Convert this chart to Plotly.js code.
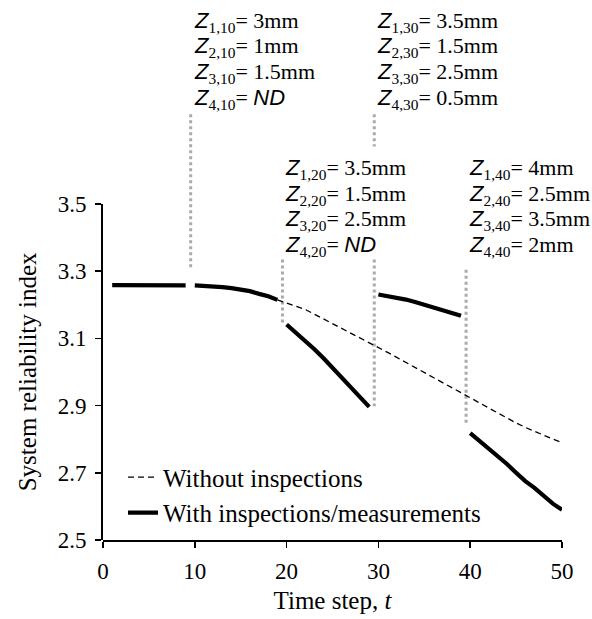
<!DOCTYPE html>
<html>
<head>
<meta charset="utf-8">
<script src="https://cdn.plot.ly/plotly-3.0.1.min.js"></script>
<style>
  html, body { margin: 0; padding: 0; background: #ffffff; }
  #chart { width: 592px; height: 619px; }
</style>
</head>
<body>
<div id="chart"></div>
<script>
// ---- data ----
// Without inspections (dashed)
const tWithout = [19,20,21,22,23,24,25,26,27,28,29,30,31,32,33,34,35,36,37,38,39,40,41,42,43,44,45,46,47,48,49,50];
const yWithout = [3.214,3.204,3.196,3.186,3.172,3.158,3.144,3.130,3.114,3.100,3.086,3.072,3.058,3.043,3.028,3.012,2.997,2.982,2.967,2.952,2.937,2.921,2.906,2.891,2.877,2.862,2.848,2.835,2.823,2.811,2.800,2.790];

// With inspections/measurements (solid), segments separated by null
const tWith = [1,2,3,4,5,6,7,8,9,null,
               10,11,12,13,14,15,16,17,18,19,null,
               20,21,22,23,24,25,26,27,28,29,null,
               30,31,32,33,34,35,36,37,38,39,null,
               40,41,42,43,44,45,46,47,48,49,50];
const yWith = [3.258,3.258,3.258,3.258,3.258,3.258,3.258,3.258,3.257,null,
               3.257,3.256,3.254,3.252,3.249,3.245,3.240,3.232,3.225,3.214,null,
               3.141,3.118,3.094,3.068,3.041,3.013,2.983,2.954,2.925,2.896,null,
               3.230,3.226,3.221,3.215,3.208,3.200,3.190,3.183,3.176,3.167,null,
               2.818,2.795,2.773,2.751,2.726,2.700,2.675,2.655,2.631,2.608,2.590];

// Inspection times and measured values
const inspTimes = [10, 20, 30, 40];
const zAt10 = ['3mm', '1mm', '1.5mm', 'ND'];
const zAt20 = ['3.5mm', '1.5mm', '2.5mm', 'ND'];
const zAt30 = ['3.5mm', '1.5mm', '2.5mm', '0.5mm'];
const zAt40 = ['4mm', '2.5mm', '3.5mm', '2mm'];

const xTicks = [0, 10, 20, 30, 40, 50];
const yTicks = [2.5, 2.7, 2.9, 3.1, 3.3, 3.5];

// ---- build ----
const SERIF = '"Liberation Serif", "Times New Roman", serif';
const SANS = '"Liberation Sans", Arial, sans-serif';

const traces = [
  {
    x: tWithout, y: yWithout, type: 'scatter', mode: 'lines',
    name: 'Without inspections',
    line: { color: '#000000', width: 1.3, dash: '6px,4px' },
    xaxis: 'x', yaxis: 'y', hoverinfo: 'skip'
  },
  {
    x: tWith, y: yWith, type: 'scatter', mode: 'lines',
    name: 'With inspections/measurements',
    line: { color: '#000000', width: 4.2 },
    connectgaps: false,
    xaxis: 'x', yaxis: 'y', hoverinfo: 'skip'
  },
  {
    // empty trace so that the displayed reliability-index axis is drawn
    x: [], y: [], type: 'scatter', mode: 'lines',
    xaxis: 'x', yaxis: 'y2', showlegend: false, hoverinfo: 'skip'
  }
];

// Plot area geometry (pixels) used for placing the text blocks
const H = 619, MT = 2, MB = 79;
const plotH = H - MT - MB;
function pxToPaper(py) { return (H - MB - py) / plotH; }

const zSets = [zAt10, zAt20, zAt30, zAt40];
const blockTopPx = [22, 169, 22, 169];   // centre of first line of each block
const lineStep = 25.5;
const SANS_Q = SANS.replace(/"/g, "'");

function zLine(i, t, val) {
  const v = (val === 'ND')
    ? '<span style="font-family:' + SANS_Q + '"><i>ND</i></span>'
    : val;
  return '<span style="font-family:' + SANS_Q + '"><i>Z</i></span>' +
         '<sub>' + i + ',' + t + '</sub>= ' + v;
}

const annotations = [];
inspTimes.forEach((t, k) => {
  zSets[k].forEach((val, i) => {
    annotations.push({
      xref: 'x', yref: 'paper',
      x: t - 0.45, y: pxToPaper(blockTopPx[k] + i * lineStep),
      xanchor: 'left', yanchor: 'middle', xshift: 2,
      text: zLine(i + 1, t, val),
      showarrow: false,
      font: { family: SERIF, size: 22, color: '#000000' },
      borderpad: 0
    });
  });
});

// Grey dotted leader lines (y values on the main y axis)
const leaderStyle = { color: '#aaaaaa', width: 3, dash: 'dot' };
const leaderPieces = [
  [0, 3.766, 3.304],
  [1, 3.334, 3.141],
  [2, 3.766, 3.670],
  [2, 3.334, 2.898],
  [3, 3.304, 2.843]
];
const shapes = leaderPieces.map(p => ({
  type: 'line', xref: 'x', yref: 'y',
  x0: inspTimes[p[0]] - 0.45, x1: inspTimes[p[0]] - 0.45,
  y0: p[1], y1: p[2],
  line: leaderStyle, layer: 'below'
}));

const layout = {
  width: 592, height: H,
  margin: { l: 103, r: 30, t: MT, b: MB },
  paper_bgcolor: '#ffffff', plot_bgcolor: 'rgba(0,0,0,0)',
  font: { family: SERIF, size: 23, color: '#000000' },
  showlegend: true,
  legend: {
    x: 0.0436, y: 0.159, xanchor: 'left', yanchor: 'top',
    bgcolor: 'rgba(0,0,0,0)', borderwidth: 0,
    font: { family: SERIF, size: 25, color: '#000000' },
    tracegroupgap: 0
  },
  xaxis: {
    range: [0, 50], tickvals: xTicks, ticktext: xTicks.map(String),
    showline: true, linecolor: '#000000', linewidth: 2,
    ticks: 'outside', ticklen: 6, tickwidth: 1.5, tickcolor: '#000000',
    ticklabelstandoff: 3,
    showgrid: false, zeroline: false, anchor: 'y',
    tickfont: { family: SERIF, size: 23, color: '#000000' },
    title: { text: 'Time step, <i>t</i>', font: { family: SERIF, size: 25, color: '#000000' }, standoff: 9 },
    fixedrange: true
  },
  yaxis: {
    range: [2.5, 4.1], domain: [0, 1], visible: false, anchor: 'x', fixedrange: true
  },
  yaxis2: {
    range: [2.5, 3.5], domain: [0, 0.625], anchor: 'x',
    tickvals: yTicks, ticktext: yTicks.map(v => v.toFixed(1)),
    showline: true, linecolor: '#000000', linewidth: 2,
    ticks: 'outside', ticklen: 6, tickwidth: 1.5, tickcolor: '#000000',
    ticklabelstandoff: 4,
    showgrid: false, zeroline: false,
    tickfont: { family: SERIF, size: 23, color: '#000000' },
    title: { text: 'System reliability index', font: { family: SERIF, size: 25, color: '#000000' }, standoff: 14 },
    fixedrange: true
  },
  annotations: annotations,
  shapes: shapes
};

Plotly.newPlot('chart', traces, layout, { staticPlot: true, displayModeBar: false });
</script>
</body>
</html>
